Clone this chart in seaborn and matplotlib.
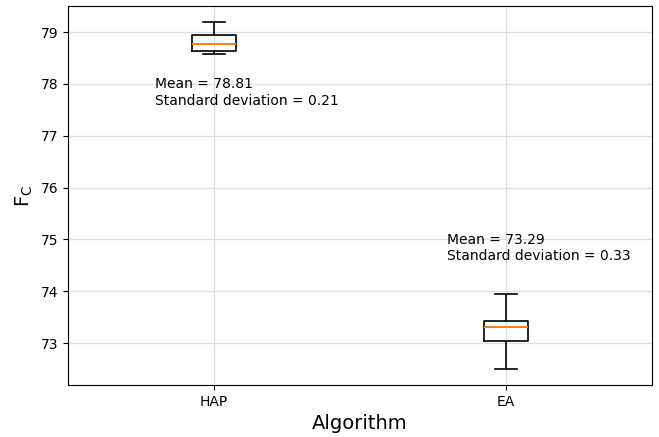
import pandas as pd
import matplotlib
matplotlib.use('Agg')
import matplotlib.pyplot as plt
import seaborn as sns

# values (min, q1, median, q3, max)
algorithms = ['HAP', 'EA']
hap_values = [78.57, 78.63, 78.77, 78.94, 79.19]
ea_values = [72.49, 73.03, 73.31, 73.43, 73.95]
means = [78.81, 73.29]
stds = [0.21, 0.33]

df = pd.DataFrame({
    'Algorithm': ['HAP'] * len(hap_values) + ['EA'] * len(ea_values),
    'Fc': hap_values + ea_values,
})

fig = plt.figure(figsize=(6.59, 4.37), dpi=100)
ax = fig.add_axes([0.103, 0.119, 0.886, 0.867])

sns.boxplot(data=df, x='Algorithm', y='Fc', order=algorithms, ax=ax,
            width=0.15, fill=False, color='black', linecolor='black',
            linewidth=1.2, whis=1.5,
            medianprops={'color': '#ff7f0e', 'linewidth': 1.4})

ax.grid(True, color='#dddddd', linewidth=0.9)
ax.set_axisbelow(True)

# annotations
ax.text(-0.2, 77.6, f'Mean = {means[0]}\nStandard deviation = {stds[0]}', fontsize=10)
ax.text(0.8, 74.6, f'Mean = {means[1]}\nStandard deviation = {stds[1]}', fontsize=10)

ax.set_xlim(-0.5, 1.5)
ax.set_ylim(72.19, 79.5)
ax.set_xlabel('Algorithm', fontsize=14)
ax.set_ylabel(r'F$_{\rm C}$', fontsize=14)
for s in ax.spines.values():
    s.set_color('black')

plt.savefig('out.png', dpi=100)
